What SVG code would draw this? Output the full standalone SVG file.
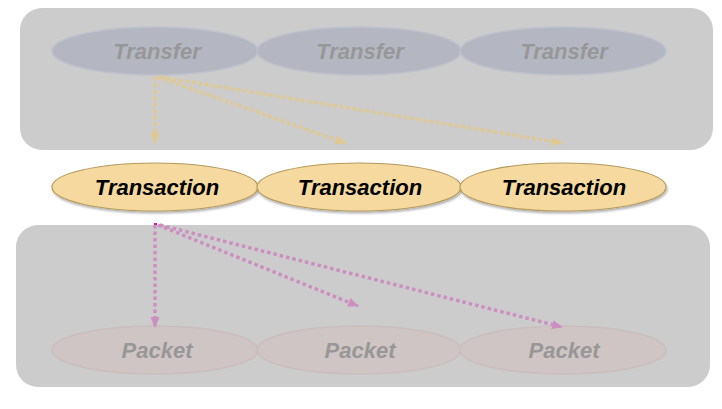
<svg xmlns="http://www.w3.org/2000/svg" width="722" height="409" viewBox="0 0 722 409">
<defs>
<style>
.panel{fill:#cccccc}
.lbl{font-family:"Liberation Sans",Arial,sans-serif;font-size:22px;font-weight:bold;font-style:italic;text-anchor:middle}
.tf{fill:#b4b7c2;stroke:#bfc1cb;stroke-width:1.5}
.tft{fill:#979797}
.tr{fill:#f5d99e;stroke:#b59a5e;stroke-width:1.2}
.trt{fill:#000}
.pk{fill:#cfc5c5;stroke:#c9bdbd;stroke-width:1.5}
.pkt{fill:#979797}
.a1{stroke:#e0c98e;stroke-width:3.5;stroke-dasharray:3.5 3;fill:none}
.a2{stroke:#cc8fbf;stroke-width:3.5;stroke-dasharray:3.5 3;fill:none}
</style>
<marker id="m1" markerWidth="11" markerHeight="10" refX="10" refY="5" orient="auto" markerUnits="userSpaceOnUse" viewBox="0 0 11 10"><path d="M0,0.5 L11,5 L0,9.5 z" fill="#e0c98e"/></marker>
<marker id="m2" markerWidth="11" markerHeight="10" refX="10" refY="5" orient="auto" markerUnits="userSpaceOnUse" viewBox="0 0 11 10"><path d="M0,0.5 L11,5 L0,9.5 z" fill="#cc8fbf"/></marker>
<filter id="sh" x="-10%" y="-20%" width="120%" height="150%"><feDropShadow dx="1" dy="2" stdDeviation="1" flood-color="#000" flood-opacity="0.3"/></filter>
</defs>
<rect class="panel" x="20" y="8" width="693" height="142" rx="22"/>
<rect class="panel" x="16" y="225" width="694" height="162" rx="22"/>
<g id="transfer1"><ellipse class="tf" cx="155" cy="51" rx="103" ry="24"/><text class="lbl tft" x="157" y="59">Transfer</text></g>
<g id="transfer2"><ellipse class="tf" cx="359" cy="51" rx="102" ry="24"/><text class="lbl tft" x="360" y="59">Transfer</text></g>
<g id="transfer3"><ellipse class="tf" cx="563" cy="51" rx="103" ry="24"/><text class="lbl tft" x="564" y="59">Transfer</text></g>
<g id="transaction1"><ellipse class="tr" filter="url(#sh)" cx="155" cy="187" rx="103" ry="24"/><text class="lbl trt" x="157" y="195">Transaction</text></g>
<g id="transaction2"><ellipse class="tr" filter="url(#sh)" cx="359" cy="187" rx="102" ry="24"/><text class="lbl trt" x="360" y="195">Transaction</text></g>
<g id="transaction3"><ellipse class="tr" filter="url(#sh)" cx="563" cy="187" rx="103" ry="24"/><text class="lbl trt" x="564" y="195">Transaction</text></g>
<g id="packet1"><ellipse class="pk" cx="155" cy="350" rx="103" ry="24"/><text class="lbl pkt" x="157" y="358">Packet</text></g>
<g id="packet2"><ellipse class="pk" cx="359" cy="350" rx="102" ry="24"/><text class="lbl pkt" x="360" y="358">Packet</text></g>
<g id="packet3"><ellipse class="pk" cx="563" cy="350" rx="103" ry="24"/><text class="lbl pkt" x="564" y="358">Packet</text></g>
<g id="connectors">
<line class="a1" x1="155" y1="77" x2="155" y2="143" marker-end="url(#m1)"/>
<line class="a1" x1="158" y1="77" x2="345" y2="143" marker-end="url(#m1)"/>
<line class="a1" x1="160" y1="77" x2="562" y2="143" marker-end="url(#m1)"/>
<line class="a2" x1="155" y1="225" x2="155" y2="327" marker-end="url(#m2)"/>
<line class="a2" x1="158" y1="225" x2="358" y2="306" marker-end="url(#m2)"/>
<line class="a2" x1="160" y1="225" x2="562" y2="327" marker-end="url(#m2)"/>
<rect x="154" y="223" width="3" height="2" fill="#e0109a"/>
</g>
</svg>
